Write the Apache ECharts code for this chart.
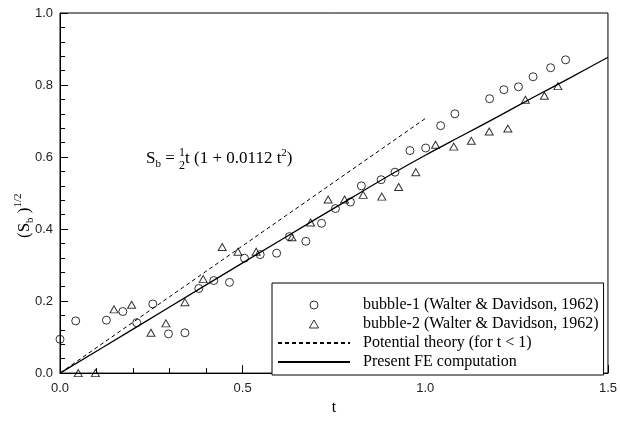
<!DOCTYPE html>
<html>
<head>
<meta charset="utf-8">
<script src="https://cdn.jsdelivr.net/npm/echarts@6/dist/echarts.min.js"></script>
<style>html,body{margin:0;padding:0;background:#fff}#c{width:620px;height:421px}</style>
</head>
<body>
<div id="c"></div>
<script>
// ---- data ----
const bubble1T = [0, 0.043, 0.127, 0.172, 0.210, 0.254, 0.297, 0.342, 0.380, 0.421, 0.464, 0.505, 0.548, 0.593, 0.628, 0.673, 0.716, 0.754, 0.795, 0.825, 0.879, 0.917, 0.958, 1.001, 1.042, 1.081, 1.176, 1.215, 1.255, 1.295, 1.343, 1.384];
const bubble1V = [0.094, 0.145, 0.147, 0.171, 0.140, 0.192, 0.109, 0.112, 0.235, 0.257, 0.252, 0.319, 0.329, 0.333, 0.379, 0.366, 0.416, 0.457, 0.475, 0.520, 0.537, 0.558, 0.618, 0.625, 0.687, 0.720, 0.762, 0.787, 0.795, 0.823, 0.848, 0.870];
const bubble2T = [0.050, 0.097, 0.148, 0.196, 0.249, 0.290, 0.342, 0.392, 0.444, 0.487, 0.537, 0.635, 0.686, 0.734, 0.779, 0.830, 0.881, 0.927, 0.974, 1.028, 1.078, 1.126, 1.175, 1.226, 1.274, 1.326, 1.363];
const bubble2V = [0.0, 0.0, 0.177, 0.190, 0.112, 0.138, 0.197, 0.261, 0.350, 0.337, 0.337, 0.377, 0.418, 0.482, 0.482, 0.495, 0.490, 0.517, 0.558, 0.634, 0.629, 0.645, 0.671, 0.679, 0.759, 0.770, 0.797];
const potentialT = [0, 1.0];
const potentialV = [0, 0.707];
const feT = [0, 0.2, 0.4, 0.6, 0.8, 0.9, 1.0, 1.1, 1.2, 1.3, 1.4, 1.5];
const feV = [0, 0.122, 0.245, 0.367, 0.488, 0.548, 0.605, 0.659, 0.713, 0.768, 0.822, 0.877];
const seriesNames = ['bubble-1 (Walter & Davidson, 1962)', 'bubble-2 (Walter & Davidson, 1962)', 'Potential theory (for t < 1)', 'Present FE computation'];
const xTicks = {min: 0, max: 1.5, interval: 0.5};
const yTicks = {min: 0, max: 1.0, interval: 0.2};

const zip = (a, b) => a.map((v, i) => [v, b[i]]);
const SERIF = '"Liberation Serif", "Times New Roman", serif';
const SANS = '"Liberation Sans", Arial, sans-serif';

const ctx = document.createElement('canvas').getContext('2d');
function measure(t, size) { ctx.font = size + 'px ' + SERIF; return ctx.measureText(t).width; }

function buildRun(pieces) {
  const children = [];
  let x = 0;
  const txt = (t, size, x, y) => ({type: 'text', x: x, y: y, style: {text: t, font: size + 'px ' + SERIF, fill: '#000', textVerticalAlign: 'middle', verticalAlign: 'middle'}});
  pieces.forEach(p => {
    if (p.stack) {
      const w = Math.max(measure(p.stack[0], p.size), measure(p.stack[1], p.size));
      children.push(txt(p.stack[0], p.size, x, p.dyTop));
      children.push(txt(p.stack[1], p.size, x, p.dyBot));
      x += w + (p.after || 0);
    } else {
      children.push(txt(p.t, p.size, x, p.dy || 0));
      x += measure(p.t, p.size) + (p.after || 0);
    }
  });
  return children;
}

const eqChildren = buildRun([
  {t: 'S', size: 17},
  {t: 'b', size: 11, dy: 5},
  {t: ' = ', size: 17},
  {stack: ['1', '2'], size: 12, dyTop: -6, dyBot: 7},
  {t: 't (1 + 0.0112 t', size: 17},
  {t: '2', size: 11, dy: -6},
  {t: ')', size: 17}
]);
const yNameChildren = buildRun([
  {t: '(S', size: 17},
  {t: 'b', size: 11, dy: 5},
  {t: ' )', size: 17},
  {t: '1/2', size: 11, dy: -7}
]);

const chart = echarts.init(document.getElementById('c'), null, {renderer: 'canvas'});
const axisCommon = {
  type: 'value',
  axisLine: {show: true, onZero: false, lineStyle: {color: '#000', width: 1}},
  axisTick: {show: true, inside: true, length: 8, lineStyle: {color: '#000'}},
  minorTick: {show: true, splitNumber: 5, length: 5, lineStyle: {color: '#000'}},
  splitLine: {show: false},
  axisLabel: {formatter: v => v.toFixed(1), color: '#222', fontFamily: SANS, fontSize: 13}
};
const clear = 'rgba(0,0,0,0)';
chart.setOption({
  animation: false,
  grid: {left: 60, right: 8, top: 13, bottom: 34, show: true, borderColor: '#000', borderWidth: 1},
  xAxis: Object.assign({}, axisCommon, xTicks, {
    name: 't', nameLocation: 'middle', nameGap: 20,
    nameTextStyle: {fontFamily: SERIF, fontSize: 16, color: '#000'},
    axisLabel: Object.assign({}, axisCommon.axisLabel, {margin: 9})
  }),
  yAxis: Object.assign({}, axisCommon, yTicks, {
    axisLabel: Object.assign({}, axisCommon.axisLabel, {margin: 7})
  }),
  legend: {
    orient: 'vertical', left: 272, top: 283, align: 'left',
    backgroundColor: '#fff',
    borderColor: '#000', borderWidth: 1, borderRadius: 0,
    padding: [14, 5, 5, 5],
    itemWidth: 72, itemHeight: 8, itemGap: 3, symbolKeepAspect: true,
    textStyle: {fontFamily: SERIF, fontSize: 16, color: '#000', padding: [0, 0, 0, 8]},
    data: [
      {name: seriesNames[0], icon: 'circle', itemStyle: {color: clear, borderColor: '#000', borderWidth: 1}},
      {name: seriesNames[1], icon: 'path://M4,0 L8,7 L0,7 Z', itemStyle: {color: clear, borderColor: '#000', borderWidth: 1}},
      {name: seriesNames[2], itemStyle: {color: clear, borderColor: clear, borderWidth: 0}},
      {name: seriesNames[3], itemStyle: {color: clear, borderColor: clear, borderWidth: 0}}
    ]
  },
  series: [
    {name: seriesNames[0], type: 'scatter', data: zip(bubble1T, bubble1V), symbol: 'circle', symbolSize: 8,
     itemStyle: {color: clear, borderColor: '#000', borderWidth: 1}, emphasis: {disabled: true}, z: 3},
    {name: seriesNames[1], type: 'scatter', data: zip(bubble2T, bubble2V), symbol: 'triangle', symbolSize: [8, 7],
     itemStyle: {color: clear, borderColor: '#000', borderWidth: 1}, emphasis: {disabled: true}, z: 3},
    {name: seriesNames[2], type: 'line', data: zip(potentialT, potentialV), symbol: 'none', showSymbol: false,
     lineStyle: {color: '#000', width: 1, type: [4, 3]}, itemStyle: {color: '#000'}, emphasis: {disabled: true}, z: 2},
    {name: seriesNames[3], type: 'line', data: zip(feT, feV), symbol: 'none', showSymbol: false, smooth: 0.3,
     lineStyle: {color: '#000', width: 1.3}, itemStyle: {color: '#000'}, emphasis: {disabled: true}, z: 2}
  ],
  graphic: [
    {type: 'group', x: 146, y: 159, children: eqChildren},
    {type: 'group', x: 25, y: 238, rotation: Math.PI / 2, children: yNameChildren}
  ]
});
</script>
</body>
</html>
